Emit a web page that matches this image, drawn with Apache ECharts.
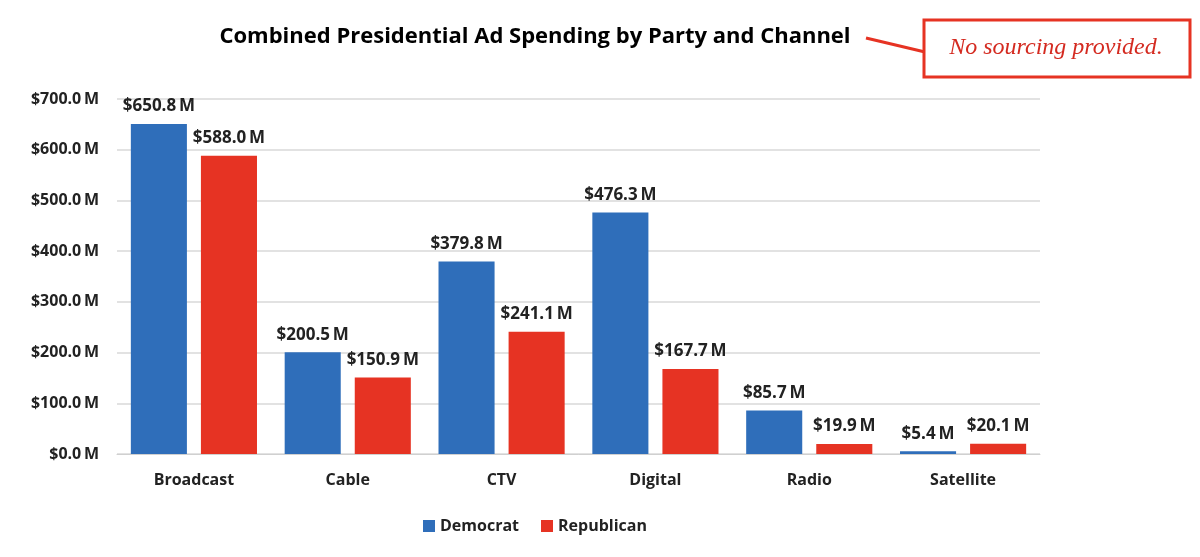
<!DOCTYPE html>
<html>
<head>
<meta charset="utf-8">
<script src="https://cdn.jsdelivr.net/npm/echarts@6/dist/echarts.min.js"></script>
<style>
  html, body { margin: 0; padding: 0; background: #fff; }
  #main { width: 1200px; height: 557px; }
</style>
</head>
<body>
<div id="main"></div>
<script>
// channels and spending, in millions of dollars
var channels = ['Broadcast', 'Cable', 'CTV', 'Digital', 'Radio', 'Satellite'];
var democrat = [650.8, 200.5, 379.8, 476.3, 85.7, 5.4];
var republican = [588.0, 150.9, 241.1, 167.7, 19.9, 20.1];

var fontMain = 'Open Sans, Lato, sans-serif';

function money(v) {
    return '$' + Number(v).toFixed(1) + '\u2009M';
}

var chartObj = echarts.init(document.getElementById('main'));

var labelOpt = {
    show: true,
    position: 'top',
    distance: 9,
    color: '#222',
    fontFamily: fontMain,
    fontWeight: 'bold',
    fontSize: 17,
    formatter: function (p) { return money(p.value); }
};

chartObj.setOption({
    animation: false,
    title: {
        text: 'Combined Presidential Ad Spending by Party and Channel',
        left: 530,
        textAlign: 'center',
        top: 21,
        textStyle: { fontFamily: fontMain, fontWeight: 'bold', fontSize: 22, color: '#000' }
    },
    legend: {
        bottom: 18,
        left: 418,
        itemWidth: 12,
        itemHeight: 12,
        itemGap: 22,
        icon: 'rect',
        textStyle: { fontFamily: fontMain, fontWeight: 'bold', fontSize: 16, color: '#222' },
        data: ['Democrat', 'Republican']
    },
    grid: { left: 117, right: 160, top: 99, bottom: 103 },
    xAxis: {
        type: 'category',
        data: channels,
        axisTick: { show: false },
        axisLine: { lineStyle: { color: '#d0d0d0' } },
        axisLabel: { margin: 18, color: '#222', fontFamily: fontMain, fontWeight: 'bold', fontSize: 16 }
    },
    yAxis: {
        type: 'value',
        min: 0,
        max: 700,
        interval: 100,
        axisLabel: {
            margin: 18,
            color: '#222',
            fontFamily: fontMain,
            fontWeight: 'bold',
            fontSize: 16,
            formatter: function (v) { return money(v); }
        },
        splitLine: { lineStyle: { color: '#d9d9d9', width: 1.5 } }
    },
    series: [
        {
            name: 'Democrat',
            type: 'bar',
            data: democrat,
            barGap: '25%',
            barCategoryGap: '18%',
            itemStyle: { color: '#2F6EBA' },
            label: labelOpt
        },
        {
            name: 'Republican',
            type: 'bar',
            data: republican,
            itemStyle: { color: '#E63323' },
            label: labelOpt
        }
    ],
    graphic: [
        {
            type: 'line',
            shape: { x1: 866, y1: 38, x2: 925, y2: 52 },
            style: { stroke: '#E63323', lineWidth: 3 }
        },
        {
            type: 'rect',
            shape: { x: 924, y: 20, width: 266, height: 57 },
            style: { fill: '#fff', stroke: '#E63323', lineWidth: 3 }
        },
        {
            type: 'text',
            x: 1056,
            y: 48,
            style: {
                text: 'No sourcing provided.',
                fill: '#D42A20',
                font: 'italic 24px "Liberation Serif", "DejaVu Serif", serif',
                align: 'center',
                verticalAlign: 'middle'
            }
        }
    ]
});
</script>
</body>
</html>
